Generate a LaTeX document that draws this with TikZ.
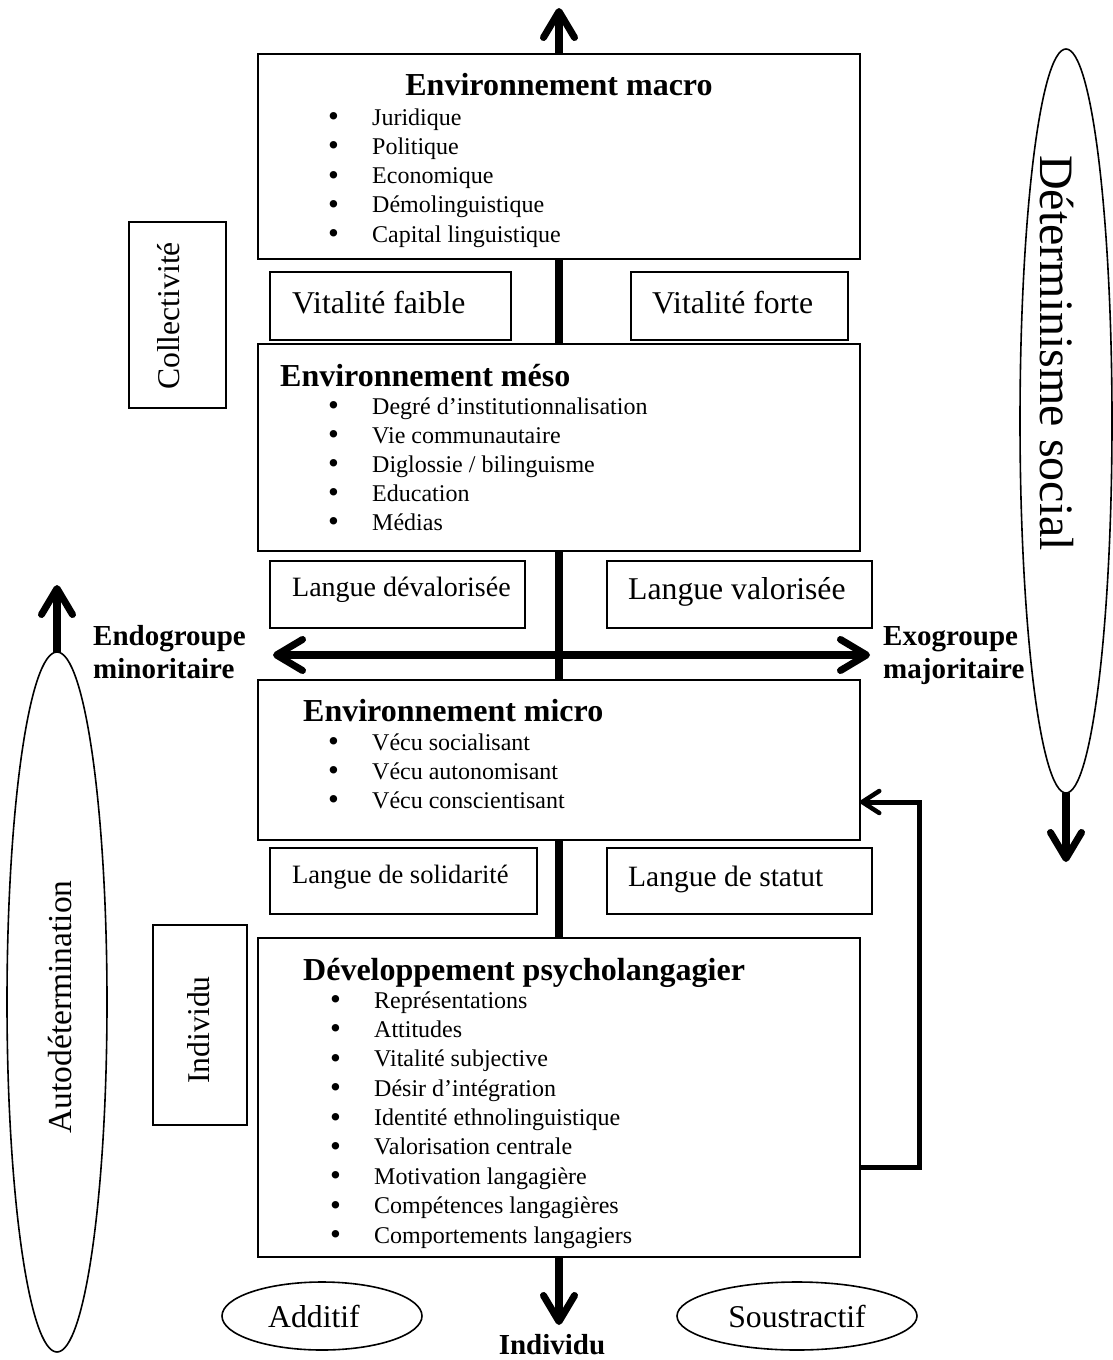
\documentclass[tikz,border=0pt]{standalone}
\usepackage{fontspec}
\setmainfont{Liberation Serif}
\usetikzlibrary{arrows.meta,shapes.geometric}
\newcommand\bul{\makebox[44pt][l]{\raisebox{-1.5pt}{\fontsize{31}{29}\selectfont\textbullet}}}
\begin{document}
\begin{tikzpicture}[x=1pt,y=-1pt,
  box/.style={draw, line width=1.6pt, fill=white, inner sep=0pt, outer sep=0pt},
  ell/.style={draw, ellipse, line width=1.6pt, inner sep=0pt, outer sep=0pt},
  head/.style={font=\bfseries\fontsize{32}{38}\selectfont, inner sep=0pt},
  item/.style={font=\fontsize{24}{29}\selectfont, inner sep=0pt, anchor=base west},
  side/.style={font=\fontsize{31.7}{38}\selectfont, inner sep=0pt},
  lab/.style={font=\bfseries\fontsize{29}{33}\selectfont, inner sep=0pt, anchor=base west},
  axis/.style={line width=7.5pt},
  arrowend/.style={-{Straight Barb[length=26pt,width=31pt,line width=7pt,round]}},
  twoends/.style={{Straight Barb[length=26pt,width=31pt,line width=7pt,round]}-{Straight Barb[length=26pt,width=31pt,line width=7pt,round]}},
  fback/.style={line width=5pt, -{Straight Barb[length=17pt,width=22pt,line width=4.5pt,round]}}
]
\useasboundingbox (0,0) rectangle (1113,1360);
\fill[white] (0,0) rectangle (1113,1360);

% main boxes
\node[box, minimum width=602pt, minimum height=205pt] (macro) at (559,156.5) {};
\node[box, minimum width=602pt, minimum height=207pt] (meso) at (559,447.5) {};
\node[box, minimum width=602pt, minimum height=160pt] (micro) at (559,760) {};
\node[box, minimum width=602pt, minimum height=319pt] (dev) at (559,1097.5) {};

% side boxes
\node[box, minimum width=241pt, minimum height=68pt] (faible) at (390.5,306) {};
\node[box, minimum width=217pt, minimum height=68pt] (forte) at (739.5,306) {};
\node[box, minimum width=255pt, minimum height=67pt] (deval) at (397.5,594.5) {};
\node[box, minimum width=265pt, minimum height=67pt] (valor) at (739.5,594.5) {};
\node[box, minimum width=267pt, minimum height=66pt] (solid) at (403.5,881) {};
\node[box, minimum width=265pt, minimum height=66pt] (statut) at (739.5,881) {};

\node[side, anchor=west] (tfaible) at (292,303) {Vitalité faible};
\node[side, anchor=west] (tforte) at (652,303) {Vitalité forte};
\node[side, anchor=west, font=\fontsize{28}{34}\selectfont] (tdeval) at (292,590) {Langue dévalorisée};
\node[side, anchor=west] (tvalor) at (628,592) {Langue valorisée};
\node[side, anchor=west, font=\fontsize{26.5}{32}\selectfont] (tsolid) at (292,877) {Langue de solidarité};
\node[side, anchor=west, font=\fontsize{29.5}{35}\selectfont] (tstatut) at (628,879) {Langue de statut};

% headings
\node[head, anchor=base] (mah) at (559,95) {Environnement macro};
\node[head, anchor=base west] (meh) at (280,386) {Environnement méso};
\node[head, anchor=base west] (mih) at (303,721) {Environnement micro};
\node[head, anchor=base west] (deh) at (303,980) {Développement psycholangagier};

% bullet lists
\foreach \txt [count=\i] in {Juridique,Politique,Economique,Démolinguistique,Capital linguistique}
  \node[item] (ma\i) at (328,{125+(\i-1)*29.25}) {\bul\txt};
\foreach \txt [count=\i] in {Degré d’institutionnalisation,Vie communautaire,Diglossie / bilinguisme,Education,Médias}
  \node[item] (me\i) at (328,{414+(\i-1)*29}) {\bul\txt};
\foreach \txt [count=\i] in {Vécu socialisant,Vécu autonomisant,Vécu conscientisant}
  \node[item] (mi\i) at (328,{750+(\i-1)*29}) {\bul\txt};
\foreach \txt [count=\i] in {Représentations,Attitudes,Vitalité subjective,Désir d’intégration,Identité ethnolinguistique,Valorisation centrale,Motivation langagière,Compétences langagières,Comportements langagiers}
  \node[item] (de\i) at (330,{1008+(\i-1)*29.375}) {\bul\txt};

% left labels boxes
\node[box, minimum width=97pt, minimum height=186pt] (collbox) at (177.5,315) {};
\node[side, rotate=90] (coll) at (169,316) {Collectivité};
\node[box, minimum width=94pt, minimum height=200pt] (indbox) at (200,1025) {};
\node[side, rotate=90] (ind) at (199,1030) {Individu};

% side ellipses
\node[ell, minimum width=100pt, minimum height=700pt] (autoell) at (57,1002) {};
\node[side, rotate=90, font=\fontsize{33.5}{40}\selectfont] (autot) at (60,1007) {Autodétermination};
\node[ell, minimum width=92pt, minimum height=744pt] (detell) at (1066,421) {};
\node[side, rotate=-90, font=\fontsize{48}{56}\selectfont] (dett) at (1057,353) {Déterminisme social};

% bottom ellipses
\node[ell, minimum width=200pt, minimum height=68pt] (add) at (322,1316) {};
\node[side] (addt) at (314,1316) {Additif};
\node[ell, minimum width=240pt, minimum height=68pt] (sous) at (797,1316) {};
\node[side] (soust) at (797,1316) {Soustractif};

% group labels
\node[lab] (endo1) at (93,645) {Endogroupe};
\node[lab] (endo2) at (93,678) {minoritaire};
\node[lab] (exo1) at (883,645) {Exogroupe};
\node[lab] (exo2) at (883,678) {majoritaire};
\node[lab, anchor=base] (indiv) at (552,1354) {Individu};

% coordinates
\coordinate (toptip) at (559,8);
\coordinate (bottip) at (559,1325);
\coordinate (hl) at (273,655);
\coordinate (hr) at (870,655);
\coordinate (autotip) at (57,585);
\coordinate (dettip) at (1066,862);
\coordinate (fbA) at (919,1167);
\coordinate (fbB) at (919,802);

% central axis
\draw[axis, arrowend] (macro.north) -- (toptip);
\draw[axis] (macro.south) -- (meso.north);
\draw[axis] (meso.south) -- (micro.north);
\draw[axis] (micro.south) -- (dev.north);
\draw[axis, arrowend] (dev.south) -- (bottip);
\draw[axis, twoends] (hl) -- (hr);

% side arrows
\draw[axis, arrowend] (autoell.north) -- (autotip);
\draw[axis, arrowend] (detell.south) -- (dettip);

% feedback
\draw[fback] (dev.east |- fbA) -- (fbA) -- (fbB) -- (micro.east |- fbB);
\end{tikzpicture}
\end{document}
